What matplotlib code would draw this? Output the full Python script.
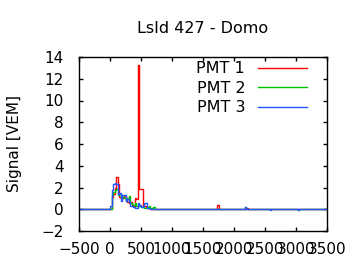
import numpy as np
import matplotlib
matplotlib.use('Agg')
import matplotlib.pyplot as plt

plt.rcParams.update({'font.size': 11, 'font.family': 'DejaVu Sans'})

# FADC traces, 25 ns bins starting at t = 0 ns
bin_width = 25
pmt1 = [0.0, 1.1, 1.4, 2.0, 3.0, 2.3, 1.1, 0.9, 1.0, 1.2, 0.8, 0.7, 0.6, 0.7, 0.4, 0.3,
        1.0, 0.9, 13.3, 1.9, 1.9, 0.3, 0.3, 0.2, 0.1, 0.1, 0.05, 0.0]
pmt2 = [0.0, 1.3, 1.6, 1.8, 1.9, 1.3, 1.4, 1.0, 1.1, 1.0, 0.8, 1.0, 1.2, 0.6, 0.5, 0.4,
        0.6, 0.3, 0.4, 0.3, 0.2, 0.2, 0.1, 0.1, 0.25, 0.3, 0.1, 0.1, 0.2, 0.05, 0.0]
pmt3 = [0.3, 1.8, 2.3, 2.4, 2.3, 1.4, 1.5, 0.8, 1.3, 1.3, 0.8, 0.9, 0.7, 0.3, 0.3, 0.2,
        0.15, 0.1, 0.6, 0.4, 0.2, 0.3, 0.6, 0.6, 0.1, 0.1, 0.05, 0.0]

# isolated late bins: (time [ns], signal [VEM])
pmt1_late = [(1725, 0.4), (2200, 0.15)]
pmt2_late = [(2175, 0.25), (3025, -0.08)]
pmt3_late = [(2175, 0.2), (2575, -0.1), (3025, -0.1)]

t_start, t_end = -500, 3500
times = np.arange(t_start, t_end + bin_width, bin_width)


def build_trace(early, late):
    trace = np.zeros(len(times))
    i0 = int((0 - t_start) / bin_width)
    trace[i0:i0 + len(early)] = early
    for t, v in late:
        trace[int((t - t_start) / bin_width)] = v
    return trace


fig = plt.figure(figsize=(3.6, 2.7), dpi=100)
ax = fig.add_axes([79 / 360, 1 - 231 / 270, 248 / 360, 174 / 270])

ax.step(times, build_trace(pmt1, pmt1_late), where='post', color='#ff0000', lw=1, label='PMT 1')
ax.step(times, build_trace(pmt2, pmt2_late), where='post', color='#00c000', lw=1, label='PMT 2')
ax.step(times, build_trace(pmt3, pmt3_late), where='post', color='#2255ff', lw=1, label='PMT 3')

ax.set_xlim(-500, 3500)
ax.set_ylim(-2, 14)
ax.set_xticks(np.arange(-500, 3501, 500))
ax.set_yticks(np.arange(-2, 15, 2))
ax.tick_params(direction='in', top=True, right=True, length=3, width=1)
ax.tick_params(axis='x', pad=8)
ax.tick_params(axis='y', pad=11)
for s in ax.spines.values():
    s.set_linewidth(1)

ax.set_ylabel('Signal [VEM]')
ax.yaxis.set_label_coords(-0.23, 0.5)
ax.set_title('LsId 427 - Domo', pad=17, fontsize=11.5)

ax.legend(loc='upper right', frameon=False, markerfirst=False, handlelength=3.1,
          labelspacing=0.28, borderaxespad=0.2, handletextpad=0.8,
          fontsize=11.5, bbox_to_anchor=(0.96, 1.03))

fig.savefig('out.png', dpi=100)
